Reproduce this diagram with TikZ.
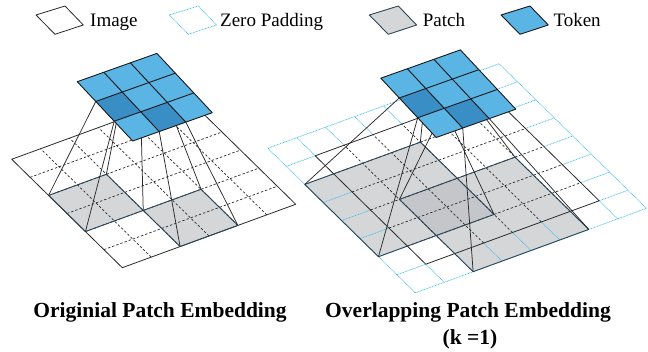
\documentclass[tikz,border=0pt]{standalone}
\usepackage{fontspec}
\setmainfont{Liberation Serif}
\definecolor{tokL}{HTML}{5AB4E4}
\definecolor{tokD}{HTML}{3A8EC6}
\definecolor{patchG}{HTML}{D5D6D8}
\definecolor{overG}{HTML}{C5C6CA}
\definecolor{slate}{HTML}{2C4658}
\definecolor{padC}{HTML}{45BDEB}
\definecolor{lineK}{HTML}{2A2A2A}
\begin{document}
\begin{tikzpicture}[x=1pt,y=-1pt,
  imgborder/.style={draw=lineK, line width=0.8pt, line join=round},
  griddash/.style={draw=lineK, line width=0.7pt, dash pattern=on 2.4pt off 2pt},
  padline/.style={draw=padC, line width=0.7pt, dash pattern=on 0.9pt off 0.7pt},
  patchborder/.style={draw=slate, line width=0.9pt, line join=round},
  conn/.style={draw=lineK, line width=0.75pt},
  tokline/.style={draw=black!90, line width=0.9pt, line join=round},
  legtext/.style={font=\fontsize{19}{22}\selectfont, inner sep=0pt, anchor=base west},
  captext/.style={font=\bfseries\fontsize{21.5}{24}\selectfont, inner sep=0pt, anchor=base}]
\useasboundingbox (0,0) rectangle (648,352);

% ---------------- Legend ----------------
\draw[imgborder, fill=white] (55,34.3) -- ++(28.3,-9.3) -- ++(-18.3,-19) -- ++(-29,9) -- cycle;
\node[legtext] (legImg) at (90,26.7) {Image};
\draw[padline, fill=white] (188.3,34.3) -- ++(28.3,-9.3) -- ++(-18.3,-19) -- ++(-29,9) -- cycle;
\node[legtext] (legPad) at (220,26.7) {Zero Padding};
\draw[patchborder, fill=patchG] (388.3,34.3) -- ++(28.3,-9.3) -- ++(-18.3,-19) -- ++(-29,9) -- cycle;
\node[legtext] (legPatch) at (422.7,26.7) {Patch};
\draw[tokline, fill=tokL] (520,34.3) -- ++(28.3,-9.3) -- ++(-18.3,-19) -- ++(-29,9) -- cycle;
\node[legtext] (legTok) at (553.3,26.7) {Token};

% ---------------- Left: original patch embedding ----------------
\begin{scope}[shift={(122.3,267.7)}, x={(28.9pt,10.57pt)}, y={(-18.43pt,18.07pt)}]
  \fill[patchG] (0,2)--(2,2)--(2,4)--(0,4)--cycle;
  \fill[patchG] (2,0)--(4,0)--(4,2)--(2,2)--cycle;
  \foreach \k in {1,...,5} {
    \draw[griddash] (\k,0)--(\k,6);
    \draw[griddash] (0,\k)--(6,\k);
  }
  \draw[imgborder] (0,0)--(6,0)--(6,6)--(0,6)--cycle;
  \draw[patchborder] (0,2)--(2,2)--(2,4)--(0,4)--cycle;
  \draw[patchborder] (2,0)--(4,0)--(4,2)--(2,2)--cycle;
  \coordinate (Lp02) at (0,2);
  \coordinate (Lp04) at (0,4);
  \coordinate (Lp22) at (2,2);
  \coordinate (Lp24) at (2,4);
  \coordinate (Lp20) at (2,0);
  \coordinate (Lp40) at (4,0);
  \coordinate (Lp42) at (4,2);
\end{scope}
\begin{scope}[shift={(132.7,141)}, x={(26.53pt,9.43pt)}, y={(-18.47pt,19.77pt)}]
  \coordinate (Lt01) at (0,1);
  \coordinate (Lt02) at (0,2);
  \coordinate (Lt11) at (1,1);
  \coordinate (Lt12) at (1,2);
  \coordinate (Lt10) at (1,0);
  \coordinate (Lt20) at (2,0);
  \coordinate (Lt21) at (2,1);
\end{scope}
\draw[conn] (Lt01) -- (Lp02);
\draw[conn] (Lt02) -- (Lp04);
\draw[conn] (Lt11) -- (Lp22);
\draw[conn] (Lt12) -- (Lp24);
\draw[conn] (Lt10) -- (Lp20);
\draw[conn] (Lt20) -- (Lp40);
\draw[conn] (Lt21) -- (Lp42);
\begin{scope}[shift={(132.7,141)}, x={(26.53pt,9.43pt)}, y={(-18.47pt,19.77pt)}]
  \fill[tokL] (0,0)--(3,0)--(3,3)--(0,3)--cycle;
  \fill[tokD] (0,1)--(1,1)--(1,2)--(0,2)--cycle;
  \fill[tokD] (1,0)--(2,0)--(2,1)--(1,1)--cycle;
  \foreach \k in {1,2} {
    \draw[tokline] (\k,0)--(\k,3);
    \draw[tokline] (0,\k)--(3,\k);
  }
  \draw[tokline] (0,0)--(3,0)--(3,3)--(0,3)--cycle;
\end{scope}

% ---------------- Right: overlapping patch embedding ----------------
\begin{scope}[shift={(425.8,264.2)}, x={(28.9pt,10.57pt)}, y={(-18.43pt,18.07pt)}]
  \fill[patchG] (-1,1)--(3,1)--(3,5)--(-1,5)--cycle;
  \fill[patchG] (1,-1)--(5,-1)--(5,3)--(1,3)--cycle;
  \fill[overG] (1,1)--(3,1)--(3,3)--(1,3)--cycle;
  \foreach \k in {0,...,6} {
    \draw[padline] (\k,-1)--(\k,0);
    \draw[padline] (\k,6)--(\k,7);
    \draw[padline] (-1,\k)--(0,\k);
    \draw[padline] (6,\k)--(7,\k);
  }
  \draw[padline] (-1,-1)--(7,-1)--(7,7)--(-1,7)--cycle;
  \foreach \k in {1,...,5} {
    \draw[griddash] (\k,0)--(\k,6);
    \draw[griddash] (0,\k)--(6,\k);
  }
  \draw[imgborder] (0,0)--(6,0)--(6,6)--(0,6)--cycle;
  \draw[patchborder] (-1,1)--(3,1)--(3,5)--(-1,5)--cycle;
  \draw[patchborder] (1,-1)--(5,-1)--(5,3)--(1,3)--cycle;
  \coordinate (Rpm11) at (-1,1);
  \coordinate (Rpm15) at (-1,5);
  \coordinate (Rp31) at (3,1);
  \coordinate (Rp35) at (3,5);
  \coordinate (Rp1m1) at (1,-1);
  \coordinate (Rp5m1) at (5,-1);
  \coordinate (Rp13) at (1,3);
  \coordinate (Rp53) at (5,3);
\end{scope}
\begin{scope}[shift={(436.2,137.5)}, x={(26.53pt,9.43pt)}, y={(-18.47pt,19.77pt)}]
  \coordinate (Rt01) at (0,1);
  \coordinate (Rt02) at (0,2);
  \coordinate (Rt11) at (1,1);
  \coordinate (Rt12) at (1,2);
  \coordinate (Rt10) at (1,0);
  \coordinate (Rt20) at (2,0);
  \coordinate (Rt21) at (2,1);
\end{scope}
\draw[conn] (Rt01) -- (Rpm11);
\draw[conn] (Rt02) -- (Rpm15);
\draw[conn] (Rt11) -- (Rp31);
\draw[conn] (Rt12) -- (Rp35);
\draw[conn] (Rt10) -- (Rp1m1);
\draw[conn] (Rt20) -- (Rp5m1);
\draw[conn] (Rt11) -- (Rp13);
\draw[conn] (Rt21) -- (Rp53);
\begin{scope}[shift={(436.2,137.5)}, x={(26.53pt,9.43pt)}, y={(-18.47pt,19.77pt)}]
  \fill[tokL] (0,0)--(3,0)--(3,3)--(0,3)--cycle;
  \fill[tokD] (0,1)--(1,1)--(1,2)--(0,2)--cycle;
  \fill[tokD] (1,0)--(2,0)--(2,1)--(1,1)--cycle;
  \foreach \k in {1,2} {
    \draw[tokline] (\k,0)--(\k,3);
    \draw[tokline] (0,\k)--(3,\k);
  }
  \draw[tokline] (0,0)--(3,0)--(3,3)--(0,3)--cycle;
\end{scope}

% ---------------- Captions ----------------
\node[captext] (capL) at (160,318) {Originial Patch Embedding};
\node[captext] (capR) at (468,318) {Overlapping Patch Embedding};
\node[captext] (capK) at (470,345) {(k =1)};
\end{tikzpicture}
\end{document}
